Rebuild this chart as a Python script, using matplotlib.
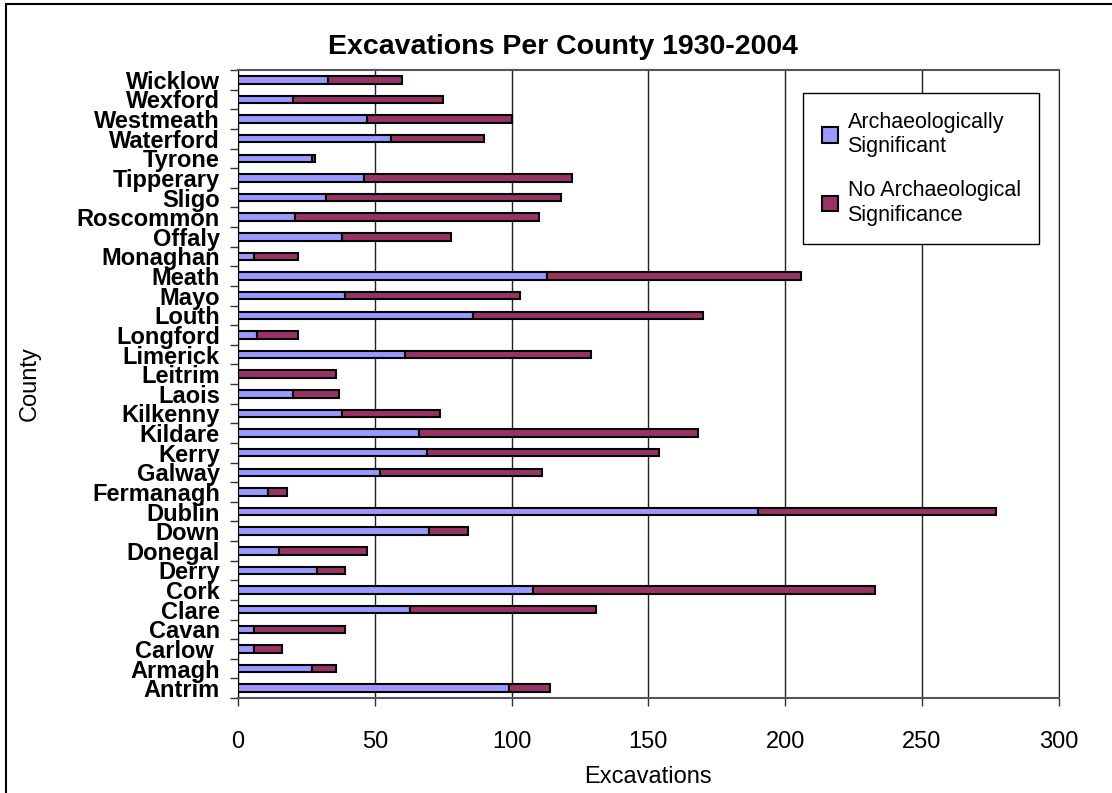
import matplotlib.pyplot as plt
from matplotlib.patches import Rectangle
from matplotlib.ticker import MultipleLocator, FixedLocator
import numpy as np

plt.rcParams['font.family'] = ['Liberation Sans', 'DejaVu Sans']

# counties, bottom to top
counties = ['Antrim', 'Armagh', 'Carlow ', 'Cavan', 'Clare', 'Cork', 'Derry',
            'Donegal', 'Down', 'Dublin', 'Fermanagh', 'Galway', 'Kerry',
            'Kildare', 'Kilkenny', 'Laois', 'Leitrim', 'Limerick', 'Longford',
            'Louth', 'Mayo', 'Meath', 'Monaghan', 'Offaly', 'Roscommon',
            'Sligo', 'Tipperary', 'Tyrone', 'Waterford', 'Westmeath',
            'Wexford', 'Wicklow']
significant = [99, 27, 6, 6, 63, 108, 29, 15, 70, 190, 11, 52, 69, 66, 38, 20,
               0, 61, 7, 86, 39, 113, 6, 38, 21, 32, 46, 27, 56, 47, 20, 33]
not_significant = [15, 9, 10, 33, 68, 125, 10, 32, 14, 87, 7, 59, 85, 102, 36,
                   17, 36, 68, 15, 84, 64, 93, 16, 40, 89, 86, 76, 1, 34, 53,
                   55, 27]
x_ticks = [0, 50, 100, 150, 200, 250, 300]

blue = '#9999FF'
maroon = '#993366'

fig = plt.figure(figsize=(11.12, 7.93), dpi=100)
ax = fig.add_axes([0.214, 0.1198, 0.738, 0.7919])

y = np.arange(len(counties))
ax.barh(y, significant, height=0.38, color=blue, edgecolor='black',
        linewidth=1.5, label='Archaeologically\nSignificant', zorder=3)
ax.barh(y, not_significant, left=significant, height=0.38, color=maroon,
        edgecolor='black', linewidth=1.5,
        label='No Archaeological\nSignificance', zorder=3)

ax.set_xlim(0, 300)
ax.set_ylim(-0.5, len(counties) - 0.5)
ax.xaxis.set_major_locator(FixedLocator(x_ticks))
ax.grid(axis='x', color='#222222', linewidth=1, zorder=0)

ax.set_yticks(y)
ax.set_yticklabels(counties, fontsize=17, fontweight='bold')
ax.yaxis.set_minor_locator(MultipleLocator(1, offset=0.5))
ax.tick_params(axis='y', which='major', length=0, pad=13)
ax.tick_params(axis='y', which='minor', length=6, width=1, color='#333333')
ax.tick_params(axis='x', length=6, width=1, color='#333333', pad=18,
               labelsize=17)

for side in ['top', 'bottom']:
    ax.spines[side].set_color('#555555')
    ax.spines[side].set_linewidth(1.5)
ax.spines['left'].set_color('black')
ax.spines['right'].set_color('#222222')

# Excel centres the title on the whole chart area
fig.text(0.506, 1 - 47 / 793, 'Excavations Per County 1930-2004',
         fontsize=20.5, fontweight='bold', ha='center', va='center')
ax.set_xlabel('Excavations', fontsize=17, labelpad=9)
ax.set_ylabel('County', fontsize=17, labelpad=26)

leg = ax.legend(loc='upper right', bbox_to_anchor=(0.976, 0.963),
                fontsize=15.5, frameon=True, fancybox=False,
                edgecolor='black', framealpha=1, labelspacing=1.1,
                handlelength=0.75, handleheight=0.75, handletextpad=0.45,
                borderpad=0.85, borderaxespad=0)
leg.get_frame().set_linewidth(1)

# chart-area border (left and top visible)
fig.add_artist(Rectangle((6 / 1112, -0.1), 1.2, 1.1 - 4 / 793,
                         transform=fig.transFigure, fill=False,
                         edgecolor='black', linewidth=1.5))

fig.savefig('out.png', dpi=100)
